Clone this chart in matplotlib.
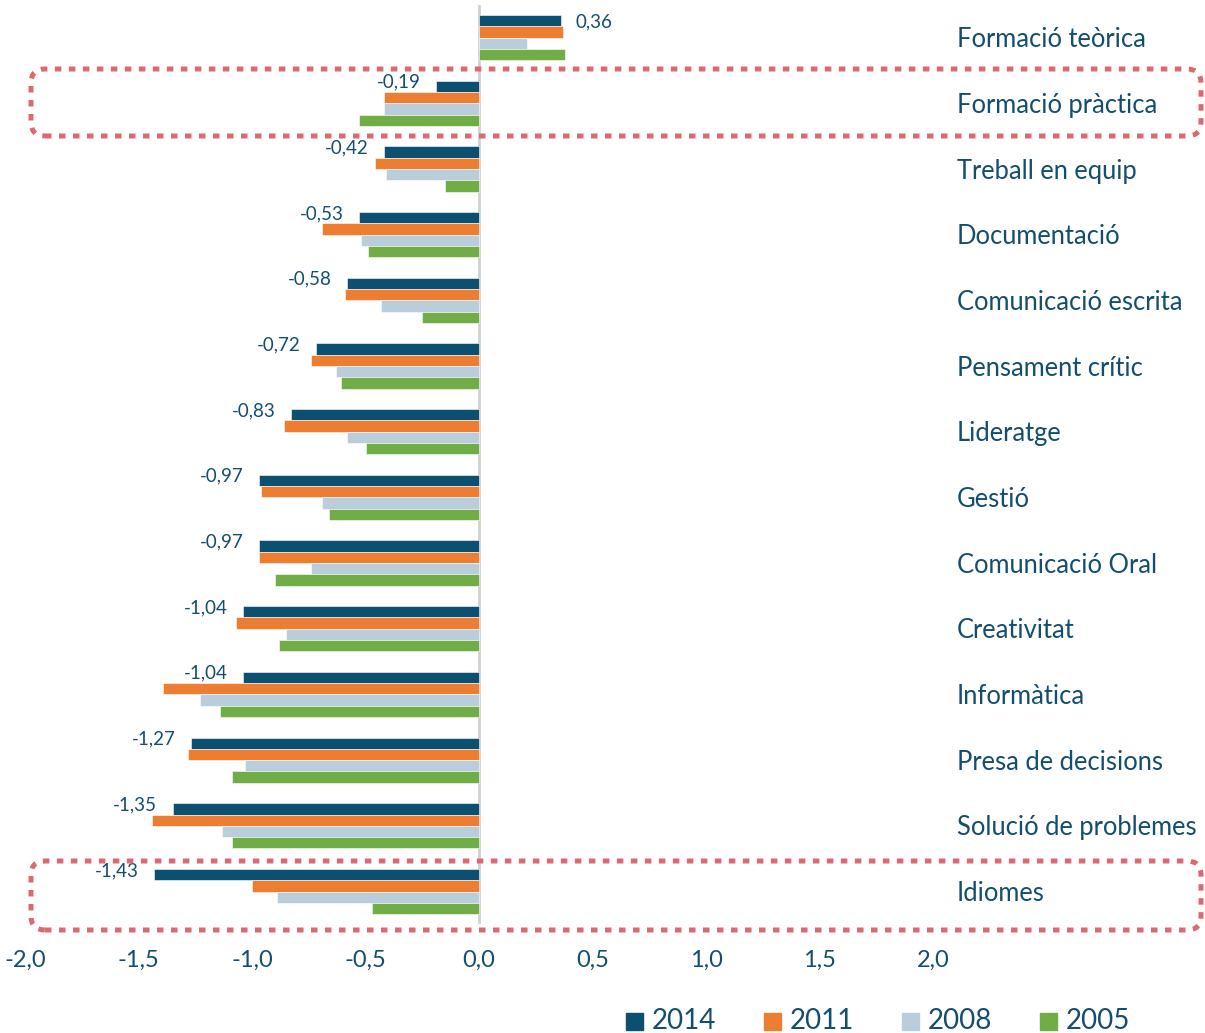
import matplotlib.pyplot as plt
from matplotlib.patches import FancyBboxPatch, Rectangle
from matplotlib.transforms import IdentityTransform
import numpy as np

plt.rcParams['font.family'] = ['Lato', 'DejaVu Sans']

# categories top to bottom
categories = ['Formació teòrica', 'Formació pràctica', 'Treball en equip', 'Documentació',
              'Comunicació escrita', 'Pensament crític', 'Lideratge', 'Gestió',
              'Comunicació Oral', 'Creativitat', 'Informàtica', 'Presa de decisions',
              'Solució de problemes', 'Idiomes']
years = ['2014', '2011', '2008', '2005']
v2014 = [0.36, -0.19, -0.42, -0.53, -0.58, -0.72, -0.83, -0.97, -0.97, -1.04, -1.04, -1.27, -1.35, -1.43]
v2011 = [0.37, -0.42, -0.46, -0.69, -0.59, -0.74, -0.86, -0.96, -0.97, -1.07, -1.39, -1.28, -1.44, -1.00]
v2008 = [0.21, -0.42, -0.41, -0.52, -0.43, -0.63, -0.58, -0.69, -0.74, -0.85, -1.23, -1.03, -1.13, -0.89]
v2005 = [0.38, -0.53, -0.15, -0.49, -0.25, -0.61, -0.50, -0.66, -0.90, -0.88, -1.14, -1.09, -1.09, -0.47]
ticks = [-2.0, -1.5, -1.0, -0.5, 0.0, 0.5, 1.0, 1.5, 2.0]

series = [v2014, v2011, v2008, v2005]
colors = ['#0B4F71', '#ED7D31', '#B9CDDB', '#70AD47']
txt = '#134E6F'

W, H = 1205, 1033
fig = plt.figure(figsize=(W / 100, H / 100), dpi=100)
ax = fig.add_axes([25 / W, (H - 924.4) / H, 908 / W, 919.7 / H])

y = np.arange(len(categories))
h = 0.172
for k, (vals, c) in enumerate(zip(series, colors)):
    ax.barh(y + (k - 1.5) * h, vals, height=h, color=c, edgecolor='white', linewidth=0.4)

# data labels for 2014
for i, v in enumerate(v2014):
    s = f'{v:.2f}'.replace('.', ',')
    if v >= 0:
        ax.annotate(s, (v, y[i] - 1.5 * h), xytext=(11, -1), textcoords='offset points',
                    ha='left', va='center', color=txt, fontsize=13.5)
    else:
        ax.annotate(s, (v, y[i] - 1.5 * h), xytext=(-11, 3), textcoords='offset points',
                    ha='right', va='center', color=txt, fontsize=13.5)

# category labels on the right
for i, c in enumerate(categories):
    ax.annotate(c, (2.106, y[i]), xytext=(0, -1.5), textcoords='offset points',
                ha='left', va='center', color=txt, fontsize=18.4, annotation_clip=False)

ax.set_xlim(-2, 2)
ax.set_ylim(len(categories) - 0.5, -0.5)
ax.set_xticks(ticks)
ax.set_xticklabels([f'{t:.1f}'.replace('.', ',') for t in ticks], color=txt, fontsize=17)
ax.tick_params(axis='x', length=0, pad=18)
ax.set_yticks([])
for s in ax.spines.values():
    s.set_visible(False)
ax.axvline(0, color='#D0D0D0', linewidth=2, zorder=0)

# dotted highlight boxes (pixel coords)
for top, bot in [(69, 136), (861, 930)]:
    box = FancyBboxPatch((31, H - bot), 1170, bot - top,
                         boxstyle='round,pad=0,rounding_size=14',
                         transform=IdentityTransform(), fill=False,
                         edgecolor='#DC6870', linewidth=3.6,
                         linestyle=(0, (1.3, 1.5)), capstyle='butt')
    fig.patches.append(box)

# legend
for k, (yr, c) in enumerate(zip(years, colors)):
    x0 = 626 + k * 138
    fig.patches.append(Rectangle((x0 / W, (H - 1030) / H), 17 / W, 17 / H,
                                 transform=fig.transFigure, color=c))
    fig.text((x0 + 26) / W, (H - 1021) / H, yr, ha='left', va='center',
             color=txt, fontsize=20)

fig.savefig('out.png', dpi=100)
